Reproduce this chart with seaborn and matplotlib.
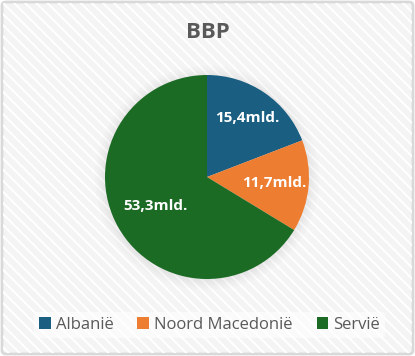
import matplotlib
matplotlib.use("Agg")
import matplotlib.pyplot as plt
import seaborn as sns
import numpy as np
from matplotlib.patches import FancyBboxPatch, Circle, Patch

categories = ["Albanië", "Noord Macedonië", "Servië"]
values = [15.4, 11.7, 53.3]
labels = ["15,4mld.", "11,7mld.", "53,3mld."]
colors = ["#1a5e82", "#ed7d31", "#1b6b24"]
title = "BBP"

sns.set_theme(style="white")
plt.rcParams["font.family"] = ["Open Sans", "DejaVu Sans"]
plt.rcParams["hatch.linewidth"] = 1.5

W, H = 415, 356
fig = plt.figure(figsize=(W / 100, H / 100), dpi=100)
fig.patch.set_facecolor("white")

# background panel with border and faint diagonal pattern
bg = FancyBboxPatch((2 / W, 2 / H), 1 - 4 / W, 1 - 4 / H,
                    boxstyle="round,pad=0,rounding_size=0.01",
                    transform=fig.transFigure, facecolor="#f4f4f4",
                    edgecolor="#d9d9d9", linewidth=2, zorder=0)
fig.patches.append(bg)
hatch = FancyBboxPatch((3 / W, 3 / H), 1 - 6 / W, 1 - 6 / H,
                       boxstyle="square,pad=0", transform=fig.transFigure,
                       facecolor="none", edgecolor="white", hatch="\\\\\\",
                       linewidth=0, zorder=0.1)
fig.patches.append(hatch)

cx, cy, r = 207, 177, 102
ax = fig.add_axes([(cx - r) / W, (H - cy - r) / H, 2 * r / W, 2 * r / H])
ax.set_zorder(2)
ax.patch.set_alpha(0)

# soft shadow
for i, a in enumerate([0.02, 0.025, 0.03, 0.035, 0.04]):
    ax.add_patch(Circle((0.0, -0.01), 1.10 - i * 0.025, color="#888888",
                        alpha=a, lw=0, zorder=0, clip_on=False))

wedges, _ = ax.pie(values, colors=colors, startangle=90, counterclock=False,
                   radius=1, wedgeprops=dict(linewidth=0))
total = sum(values)
start = 90
dists = [0.70, 0.66, 0.58]
for v, lab, d in zip(values, labels, dists):
    ang = np.deg2rad(start - v / total * 360 / 2)
    ax.text(d * np.cos(ang), d * np.sin(ang), lab, ha="center", va="center",
            color="white", fontsize=11, fontweight="bold")
    start -= v / total * 360
ax.set_xlim(-1, 1)
ax.set_ylim(-1, 1)
ax.set_aspect("equal")
ax.axis("off")

fig.text(0.5, 1 - 32 / H, title, ha="center", va="center", fontsize=16,
         fontweight="bold", color="#595959", zorder=3)

handles = [Patch(facecolor=c, edgecolor="none") for c in colors]
leg = fig.legend(handles, categories, loc="center", bbox_to_anchor=(0.505, 1 - 325 / H),
                 ncol=3, frameon=True, fontsize=12, handlelength=0.7,
                 handleheight=0.7, handletextpad=0.3, columnspacing=1.45,
                 borderpad=0.3)
leg.set_zorder(3)
leg.get_frame().set_facecolor("white")
leg.get_frame().set_edgecolor("none")
leg.get_frame().set_alpha(0.6)
for t in leg.get_texts():
    t.set_color("#595959")

fig.savefig("out.png", dpi=100, facecolor=fig.get_facecolor())
